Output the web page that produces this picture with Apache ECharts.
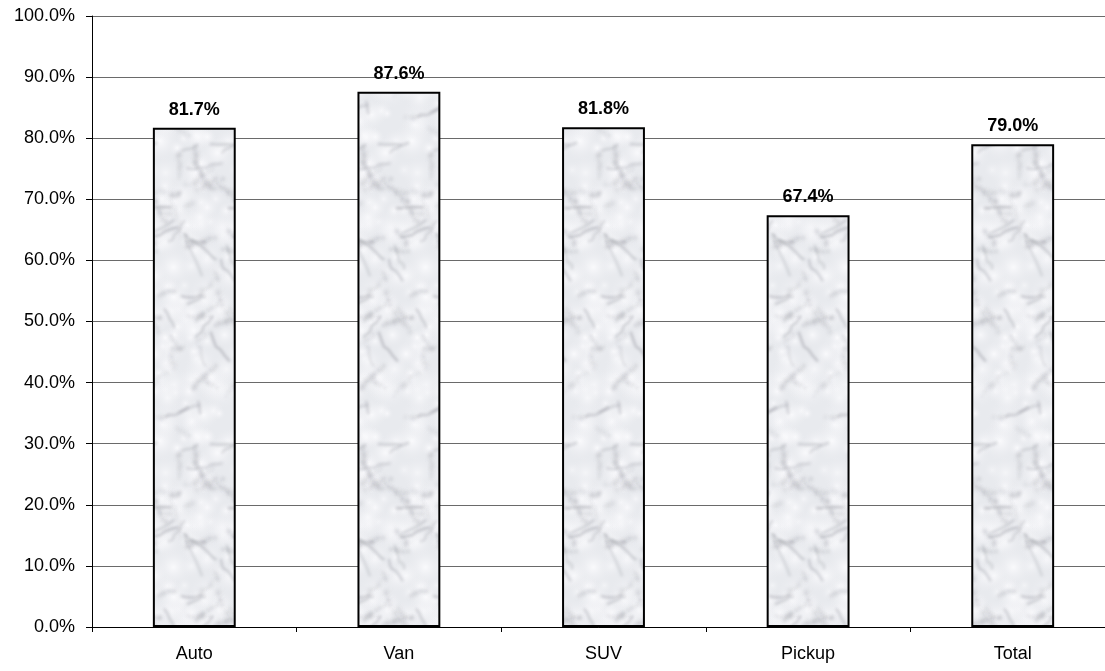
<!DOCTYPE html>
<html>
<head>
<meta charset="utf-8">
<title>Share by vehicle type</title>
<script src="https://cdn.jsdelivr.net/npm/echarts@6/dist/echarts.min.js"></script>
<style>
  html, body { margin: 0; padding: 0; background: #fff; }
  #chart { width: 1105px; height: 671px; }
</style>
</head>
<body>
<div id="chart"></div>
<script>
// Categories and values (percent)
const categories = ['Auto', 'Van', 'SUV', 'Pickup', 'Total'];
const shares = [81.7, 87.6, 81.8, 67.4, 79.0];

// Marble-like fill texture for the bars (seamlessly wrapped tile)
function marbleTexture() {
  const w = 84, h = 300;
  const c = document.createElement('canvas');
  c.width = w; c.height = h;
  const g = c.getContext('2d');
  g.fillStyle = '#e8eaee';
  g.fillRect(0, 0, w, h);
  let s = 2024;
  const rnd = () => { s = (s * 16807) % 2147483647; return s / 2147483647; };
  const wrapped = fn => {
    for (const dx of [-w, 0, w]) for (const dy of [-h, 0, h]) {
      g.save(); g.translate(dx, dy); fn(); g.restore();
    }
  };
  const blob = (x, y, r, rgba) => wrapped(() => {
    const grd = g.createRadialGradient(x, y, 0, x, y, r);
    grd.addColorStop(0, rgba);
    grd.addColorStop(1, 'rgba(235,236,240,0)');
    g.fillStyle = grd;
    g.beginPath(); g.arc(x, y, r, 0, Math.PI * 2); g.fill();
  });
  // cloudy light patches
  for (let i = 0; i < 120; i++) {
    blob(rnd() * w, rnd() * h, 6 + rnd() * 14, 'rgba(252,252,254,' + (0.5 + rnd() * 0.4) + ')');
  }
  // grey veins built from chains of soft spots
  g.filter = 'blur(1.6px)';
  for (let i = 0; i < 34; i++) {
    let x = rnd() * w, y = rnd() * h;
    const ang = -0.8 + rnd() * 0.8 + (rnd() > 0.7 ? 1.5 : 0);
    const n = 4 + Math.floor(rnd() * 8);
    const a = 0.12 + rnd() * 0.22;
    for (let k = 0; k < n; k++) {
      blob(x, y, 2 + rnd() * 4, 'rgba(120,122,132,' + a + ')');
      x += Math.cos(ang) * (2 + rnd() * 3) + (rnd() - 0.5) * 3;
      y += Math.sin(ang) * (2 + rnd() * 3) + (rnd() - 0.5) * 3;
    }
  }
  for (let i = 0; i < 22; i++) {
    const pts = [];
    let x = rnd() * w, y = rnd() * h;
    const ang = -0.9 + rnd() * 0.9 + (rnd() > 0.6 ? 1.5 : 0);
    pts.push([x, y]);
    const n = 3 + Math.floor(rnd() * 4);
    for (let k = 0; k < n; k++) {
      x += Math.cos(ang) * (3 + rnd() * 5) + (rnd() - 0.5) * 4;
      y += Math.sin(ang) * (3 + rnd() * 5) + (rnd() - 0.5) * 4;
      pts.push([x, y]);
    }
    const col = 'rgba(105,107,118,' + (0.2 + rnd() * 0.25) + ')';
    const lw = 1 + rnd() * 1.5;
    wrapped(() => {
      g.strokeStyle = col; g.lineWidth = lw;
      g.beginPath(); g.moveTo(pts[0][0], pts[0][1]);
      for (let k = 1; k < pts.length; k++) g.lineTo(pts[k][0], pts[k][1]);
      g.stroke();
    });
  }
  g.filter = 'none';
  return c;
}

const chart = echarts.init(document.getElementById('chart'), null, { renderer: 'canvas' });
const font = '"Liberation Sans", Arial, sans-serif';

chart.setOption({
  animation: false,
  backgroundColor: '#ffffff',
  grid: { left: 92, top: 16, bottom: 44, width: 1023, outerBoundsMode: 'none', containLabel: false },
  xAxis: {
    type: 'category',
    data: categories,
    axisLine: { show: true, lineStyle: { color: '#000', width: 1 } },
    axisTick: { show: true, length: 5, lineStyle: { color: '#000' } },
    axisLabel: { color: '#000', fontFamily: font, fontSize: 18, margin: 18 },
    splitLine: { show: false }
  },
  yAxis: {
    type: 'value',
    min: 0, max: 100, interval: 10,
    axisLine: { show: true, lineStyle: { color: '#000', width: 1 } },
    axisTick: { show: true, length: 6, lineStyle: { color: '#000' } },
    axisLabel: {
      color: '#000', fontFamily: font, fontSize: 18, margin: 17,
      formatter: v => v.toFixed(1) + '%'
    },
    splitLine: { show: true, lineStyle: { color: '#6a6a6a', width: 1 } }
  },
  series: [{
    type: 'bar',
    data: shares,
    barWidth: '40.5%',
    itemStyle: {
      color: { image: marbleTexture(), repeat: 'repeat' },
      borderColor: '#000',
      borderWidth: 2
    },
    label: {
      show: true,
      position: 'top',
      distance: 9,
      color: '#000',
      fontFamily: font,
      fontSize: 18,
      fontWeight: 'bold',
      formatter: p => p.value.toFixed(1) + '%'
    }
  }]
});
</script>
</body>
</html>
